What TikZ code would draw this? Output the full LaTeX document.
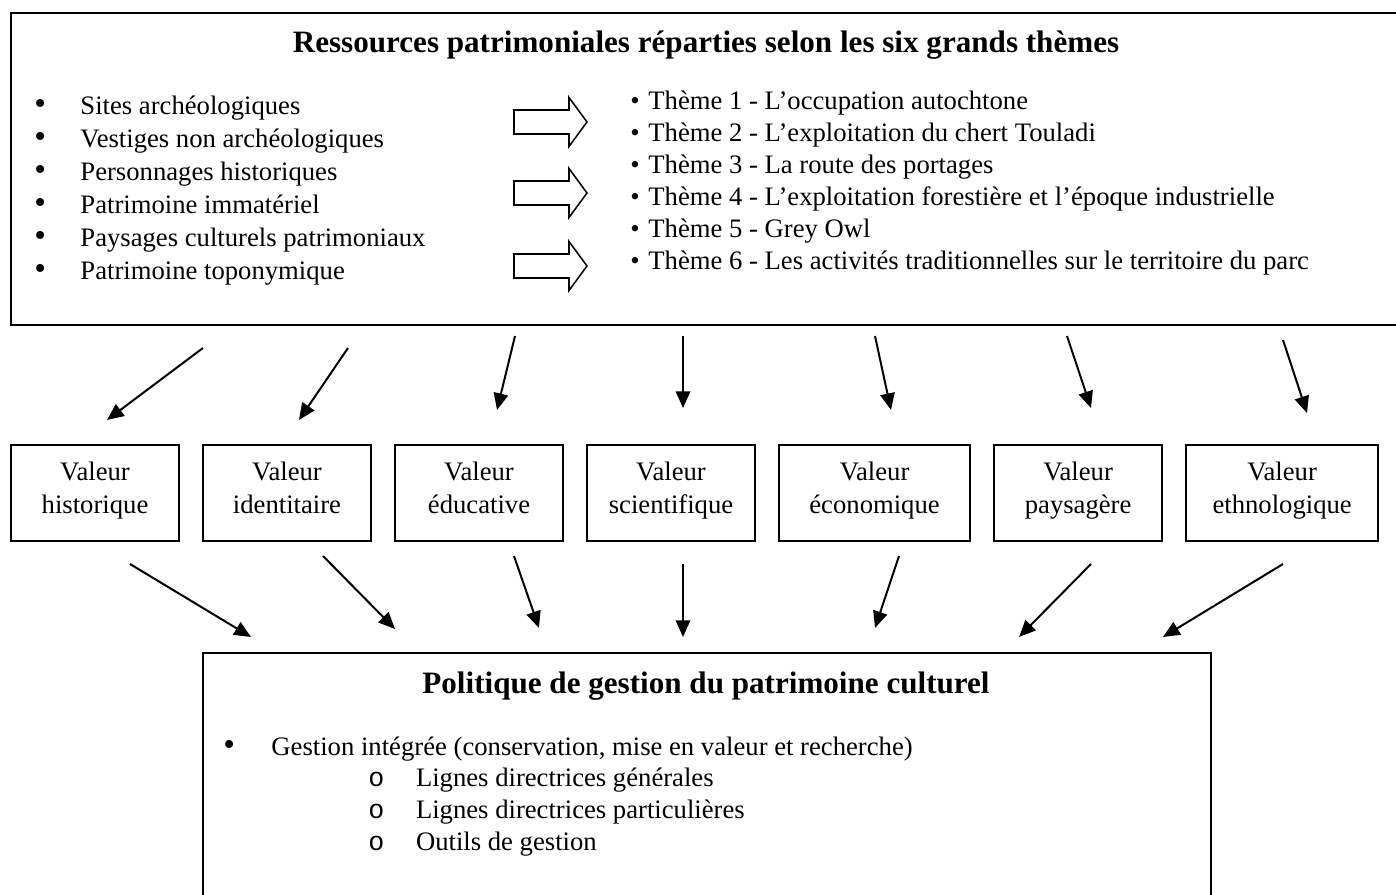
\documentclass[tikz,border=0pt]{standalone}
\usepackage{fontspec}
\setmainfont{Liberation Serif}
\setmonofont{Liberation Mono}
\usepackage{tikz}
\usetikzlibrary{arrows.meta,positioning,fit}

\tikzset{
  cadre/.style={draw=black, line width=0.9pt},
  valeur/.style={rectangle, draw=black, line width=0.9pt, minimum width=75.6pt, minimum height=43.2pt, align=center, inner sep=0pt, font=\fontsize{12}{14.8}\selectfont, execute at begin node={\strut}, execute at end node={\strut}},
  puce/.style={anchor=base west, inner sep=0pt, font=\fontsize{12}{14.8}\selectfont},
  titre/.style={anchor=base, inner sep=0pt, font=\fontsize{14}{16}\selectfont\bfseries},
  lien/.style={-{Triangle[length=7.5pt,width=6.5pt]}, line width=0.9pt},
  vide/.style={draw=black, line width=0.7pt, line join=miter}
}

\begin{document}
\begin{tikzpicture}[x=0.45pt, y=-0.45pt, node distance=9.9pt]
\useasboundingbox (0,0) rectangle (1396,895);

\node (ressources) [fit={(11,13) (1396,325)}, inner sep=0pt] {};
\draw [cadre] (ressources.north east) -- (ressources.north west) -- (ressources.south west) -- (ressources.south east);
\node (titre1) [titre] at (706,53) {Ressources patrimoniales réparties selon les six grands thèmes};

\foreach \t [count=\i] in {Sites archéologiques, Vestiges non archéologiques, Personnages historiques, Patrimoine immatériel, Paysages culturels patrimoniaux, Patrimoine toponymique}
  \node (ressource\i) [puce] at (34,82+33*\i) {\makebox[20.7pt][l]{\fontsize{15}{15}\selectfont\textbullet}\t};

\foreach \y in {122,193,266}
  \draw [vide] (514,\y) ++(0,-12) -- ++(55,0) -- ++(0,-12.5) -- ++(18,24.5) -- ++(-18,24.5) -- ++(0,-12.5) -- ++(-55,0) -- cycle;

\foreach \t [count=\i] in {Thème 1 - L’occupation autochtone, Thème 2 - L’exploitation du chert Touladi, Thème 3 - La route des portages, Thème 4 - L’exploitation forestière et l’époque industrielle, Thème 5 - Grey Owl, Thème 6 - Les activités traditionnelles sur le territoire du parc}
  \node (theme\i) [puce] at (630,78+32*\i) {\makebox[8.1pt][l]{\textbullet}\t};

\node (historique) [valeur] at (95,493) {Valeur\\historique};
\node (identitaire) [valeur, right=of historique] {Valeur\\identitaire};
\node (educative) [valeur, right=of identitaire] {Valeur\\éducative};
\node (scientifique) [valeur, right=of educative] {Valeur\\scientifique};
\node (economique) [valeur, right=of scientifique, minimum width=86pt] {Valeur\\économique};
\node (paysagere) [valeur, right=of economique] {Valeur\\paysagère};
\node (ethnologique) [valeur, right=of paysagere, minimum width=86.4pt] {Valeur\\ethnologique};

\foreach \n/\a/\b/\c/\d in {1/203/348/107/420, 2/348/348/299/420, 3/515/336/497/410, 4/683/336/683/408, 5/875/336/891/410, 6/1067/336/1091/408, 7/1283/340/1307/413}
{
  \coordinate (depart\n) at (\a,\b);
  \coordinate (arrivee\n) at (\c,\d);
  \draw [lien] (depart\n) -- (arrivee\n);
}

\foreach \n/\a/\b/\c/\d in {1/130/564/251/637, 2/323/556/395/629, 3/514/556/539/628, 4/683/564/683/637, 5/899/556/875/628, 6/1091/564/1019/637, 7/1283/564/1163/637}
{
  \coordinate (source\n) at (\a,\b);
  \coordinate (cible\n) at (\c,\d);
  \draw [lien] (source\n) -- (cible\n);
}

\node (gestion) [fit={(203,653) (1211,895)}, inner sep=0pt] {};
\draw [cadre] (gestion.south west) -- (gestion.north west) -- (gestion.north east) -- (gestion.south east);
\node (titre2) [titre] at (706,693) {Politique de gestion du patrimoine culturel};
\node (integree) [puce] at (223,755) {\makebox[21.6pt][l]{\fontsize{15}{15}\selectfont\textbullet}Gestion intégrée (conservation, mise en valeur et recherche)};
\foreach \t [count=\i] in {Lignes directrices générales, Lignes directrices particulières, Outils de gestion}
  \node (ligne\i) [puce] at (368,754+32*\i) {\makebox[21.4pt][l]{\texttt{o}}\t};
\end{tikzpicture}
\end{document}
